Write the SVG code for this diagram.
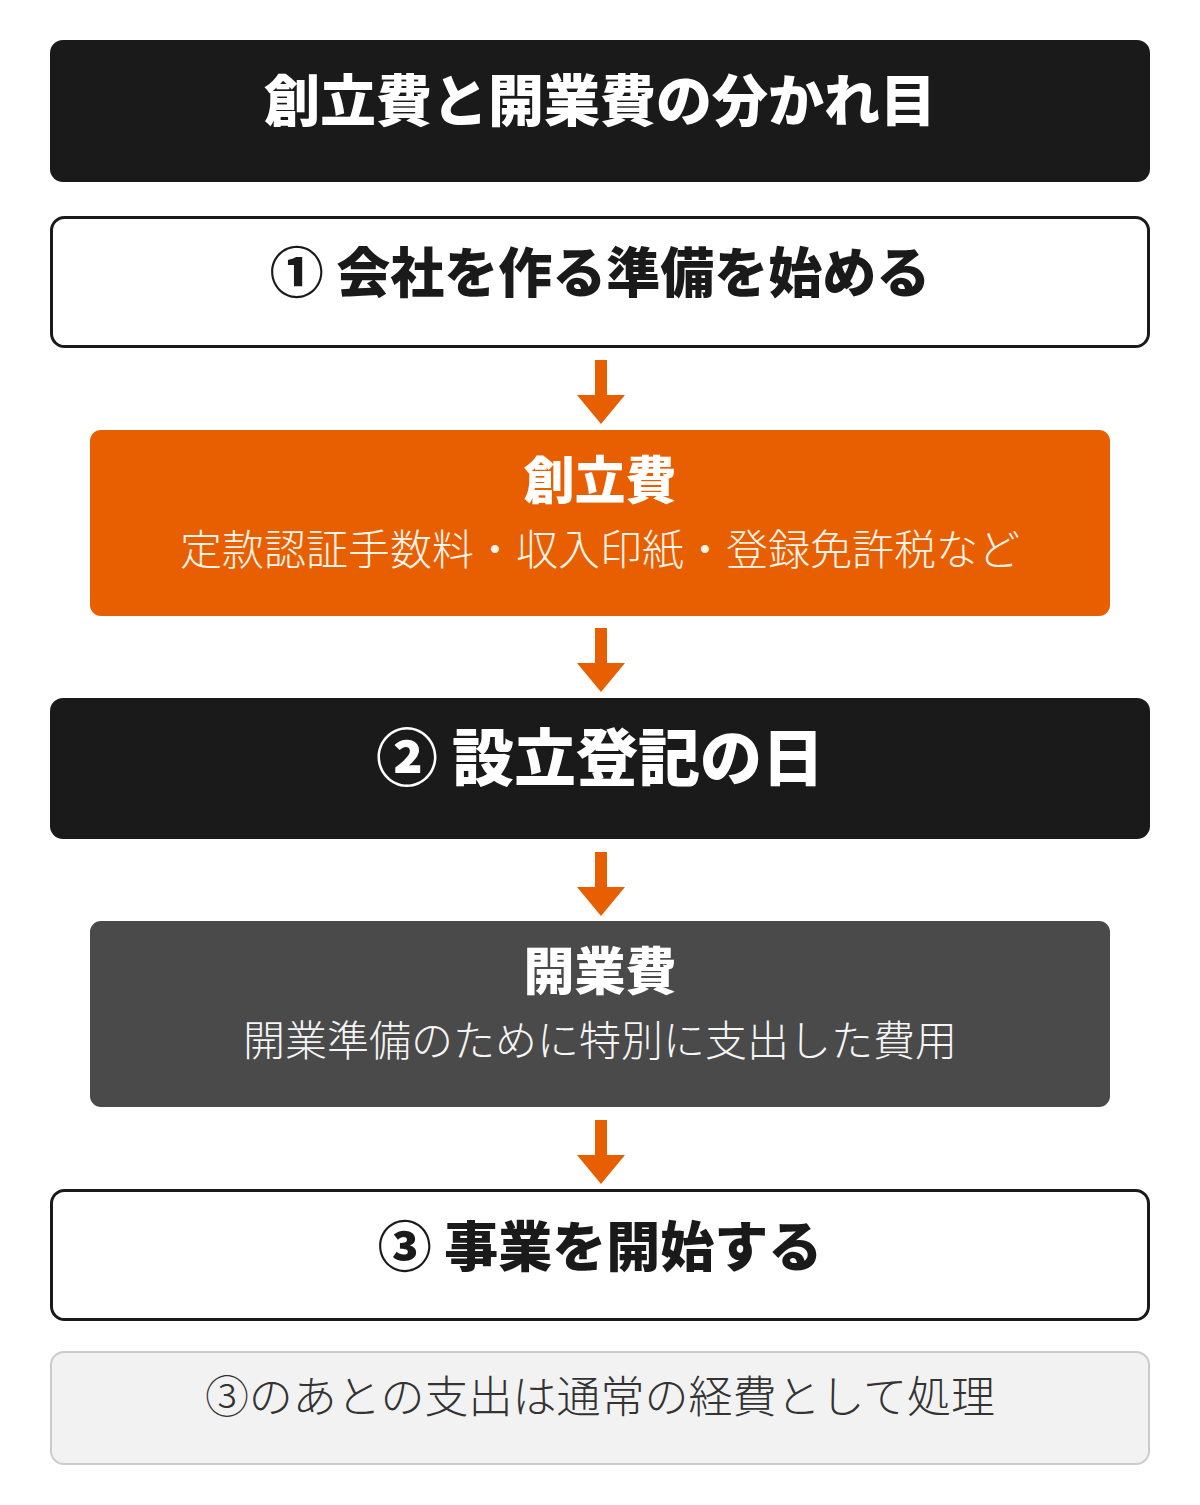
<svg xmlns="http://www.w3.org/2000/svg" width="1200" height="1505" viewBox="0 0 1200 1505">
<style>
text{font-family:"Noto Sans CJK JP","Noto Sans CJK SC",sans-serif;text-anchor:middle}
.h{font-weight:900}
.w{fill:#ffffff}
.k{fill:#1a1a1a}
.sub{font-weight:300;font-size:42px;fill:#fff4ea}
.arr{fill:#e85f02}
</style>
<defs>
<path id="arrow" d="M-6,0 H6 V35 H24 L0,64 L-24,35 H-6 Z"/>
</defs>
<rect width="1200" height="1505" fill="#ffffff"/>
<g id="title">
<rect x="50" y="40" width="1100" height="142" rx="13" fill="#1a1a1a"/>
<text x="600" y="121" class="h w" font-size="56">創立費と開業費の分かれ目</text>
</g>
<g id="step1">
<rect x="51.5" y="217.5" width="1097" height="129" rx="13" fill="#ffffff" stroke="#1a1a1a" stroke-width="3"/>
<text x="600" y="293" class="h k" font-size="54">① 会社を作る準備を始める</text>
</g>
<g id="soritsuhi">
<rect x="90" y="430" width="1020" height="186" rx="11" fill="#e85f02"/>
<text x="600" y="499" class="h w" font-size="51">創立費</text>
<text x="600" y="565" class="sub">定款認証手数料・収入印紙・登録免許税など</text>
</g>
<g id="step2">
<rect x="50" y="698" width="1100" height="141" rx="13" fill="#1a1a1a"/>
<text x="600" y="781" class="h w" font-size="62">② 設立登記の日</text>
</g>
<g id="kaigyohi">
<rect x="90" y="921" width="1020" height="186" rx="11" fill="#4a4a4a"/>
<text x="600" y="990" class="h w" font-size="51">開業費</text>
<text x="600" y="1056" class="sub" style="fill:#f5f5f5">開業準備のために特別に支出した費用</text>
</g>
<g id="step3">
<rect x="51.5" y="1190.5" width="1097" height="129" rx="13" fill="#ffffff" stroke="#1a1a1a" stroke-width="3"/>
<text x="600" y="1267" class="h k" font-size="54">③ 事業を開始する</text>
</g>
<g id="note">
<rect x="51" y="1352" width="1098" height="112" rx="13" fill="#f2f2f2" stroke="#cccccc" stroke-width="2"/>
<text x="600" y="1413" font-size="44" font-weight="300" fill="#333333">③のあとの支出は通常の経費として処理</text>
</g>
<g id="connectors" class="arr">
<use href="#arrow" x="601" y="360"/>
<use href="#arrow" x="601" y="628"/>
<use href="#arrow" x="601" y="852"/>
<use href="#arrow" x="601" y="1120"/>
</g>
</svg>
